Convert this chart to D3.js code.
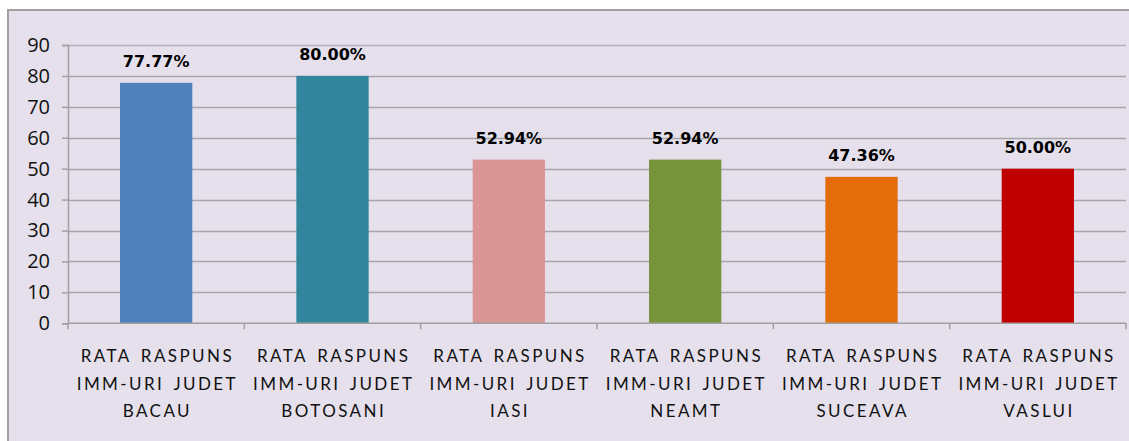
<!DOCTYPE html>
<html>
<head>
<meta charset="utf-8">
<script src="https://cdn.jsdelivr.net/npm/d3@7"></script>
<style>
  body { margin: 0; background: #fff; }
  svg { display: block; }
</style>
</head>
<body>
<svg id="chart" width="1129" height="441"></svg>
<script>
// values
var judete = ["BACAU", "BOTOSANI", "IASI", "NEAMT", "SUCEAVA", "VASLUI"];
var rata = [77.77, 80.00, 52.94, 52.94, 47.36, 50.00];
var etichete = ["77.77%", "80.00%", "52.94%", "52.94%", "47.36%", "50.00%"];
var culori = ["#4f81bd", "#31859c", "#d99694", "#77933c", "#e46c0a", "#c00000"];
var yTicks = [0, 10, 20, 30, 40, 50, 60, 70, 80, 90];

var svg = d3.select("#chart"),
  MARGINS = { top: 45, left: 68, right: 3, bottom: 118 },
  WIDTH = 1129,
  HEIGHT = 441;

// chart frame
svg.append("rect")
  .attr("x", 8).attr("y", 10)
  .attr("width", 1300).attr("height", 600)
  .attr("fill", "#e5e0ec")
  .attr("stroke", "#a0a0a0")
  .attr("stroke-width", 2);

var x = d3.scaleBand()
  .domain(judete)
  .range([MARGINS.left, WIDTH - MARGINS.right])
  .padding(0);

var y = d3.scaleLinear()
  .domain([0, 90])
  .range([323.3, MARGINS.top]);

var barW = x.bandwidth() * 0.41;

// gridlines
svg.append("g")
  .selectAll("line")
  .data(yTicks.filter(function(d) { return d > 0; }))
  .enter().append("line")
  .attr("x1", MARGINS.left).attr("x2", WIDTH - MARGINS.right)
  .attr("y1", function(d) { return Math.round(y(d)) + 0.5; })
  .attr("y2", function(d) { return Math.round(y(d)) + 0.5; })
  .attr("stroke", function(d) { return d === 90 ? "#b4b0bc" : "#a6a6a6"; })
  .attr("stroke-width", 1.5);

// bars
svg.append("g")
  .selectAll("rect")
  .data(rata)
  .enter().append("rect")
  .attr("x", function(d, i) { return x(judete[i]) + (x.bandwidth() - barW) / 2; })
  .attr("y", function(d) { return y(d); })
  .attr("width", barW)
  .attr("height", function(d) { return y(0) - y(d); })
  .attr("fill", function(d, i) { return culori[i]; });

// value labels
svg.append("g")
  .selectAll("text")
  .data(rata)
  .enter().append("text")
  .attr("x", function(d, i) { return x(judete[i]) + x.bandwidth() / 2; })
  .attr("y", function(d) { return y(d) - 16; })
  .attr("text-anchor", "middle")
  .style("font-family", "DejaVu Sans, sans-serif")
  .style("font-weight", "bold")
  .style("font-size", "16px")
  .attr("fill", "#000")
  .text(function(d, i) { return etichete[i]; });

// axes
var yAxis = d3.axisLeft(y).tickValues(yTicks).tickSize(6).tickPadding(12).tickFormat(d3.format("d"));
var gy = svg.append("g")
  .attr("transform", "translate(" + MARGINS.left + ",0)")
  .call(yAxis);
gy.attr("font-size", null).attr("font-family", null);
gy.select(".domain").attr("stroke", "#a0a0a0").attr("stroke-width", 1.5);
gy.selectAll(".tick line").attr("stroke", "#a0a0a0").attr("stroke-width", 1.5);
gy.selectAll(".tick text")
  .attr("font-family", "Open Sans")
  .attr("font-size", 20)
  .attr("fill", "#111");

var gx = svg.append("g")
  .attr("transform", "translate(0," + y(0) + ")");
gx.append("line")
  .attr("x1", MARGINS.left).attr("x2", WIDTH - MARGINS.right)
  .attr("stroke", "#a0a0a0").attr("stroke-width", 1.5);
var tickPos = judete.map(function(d) { return x(d); }).concat([x(judete[judete.length - 1]) + x.bandwidth()]);
gx.selectAll("line.tk")
  .data(tickPos)
  .enter().append("line")
  .attr("class", "tk")
  .attr("x1", function(d) { return d; }).attr("x2", function(d) { return d; })
  .attr("y1", 0).attr("y2", 6)
  .attr("stroke", "#a0a0a0").attr("stroke-width", 1.5);

// category labels
var cat = svg.append("g")
  .selectAll("text")
  .data(judete)
  .enter().append("text")
  .attr("text-anchor", "middle")
  .style("font-family", "Lato, sans-serif")
  .style("font-size", "17px")
  .style("word-spacing", "3px")
  .attr("fill", "#111");

var lines = function(d) { return ["RATA RASPUNS", "IMM-URI JUDET", d]; };
var tspans = cat.selectAll("tspan")
  .data(function(d) { return lines(d).map(function(t) { return { t: t, j: d }; }); })
  .enter().append("tspan")
  .attr("y", function(d, i) { return 362 + i * 27.5; })
  .text(function(d) { return d.t; });

// widen letter spacing so the lines span about as wide as in the original
var tn = tspans.nodes();
var n1 = tn[0].getComputedTextLength(), n2 = tn[1].getComputedTextLength();
var ls = Math.max(0, ((162 - n1) / 12 + (152 - n2) / 13) / 2);
cat.style("letter-spacing", ls + "px");
tspans.attr("x", function(d) { return x(d.j) + x.bandwidth() / 2 + ls / 2; });
</script>
</body>
</html>
